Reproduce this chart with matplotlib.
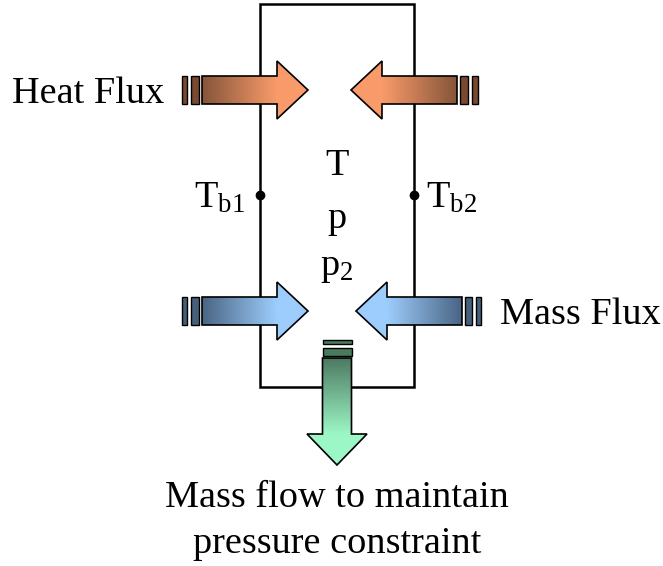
import numpy as np
import matplotlib
matplotlib.use("Agg")
import matplotlib.pyplot as plt
from matplotlib.patches import Polygon, Rectangle
from matplotlib.colors import to_rgb

plt.rcParams.update({
    "font.family": "Liberation Serif",
    "mathtext.fontset": "custom",
    "mathtext.rm": "Liberation Serif",
    "mathtext.it": "Liberation Serif:italic",
})

W, H = 663, 566

# control volume (pixel coords, y down)
box = [260, 4, 414, 387]
probe_y = 195

# horizontal arrows: (tail_x, head_base_x, tip_x, y_center, shaft_half, head_half)
heat_arrows = [(202, 277, 308, 90, 14, 29), (457, 382, 351, 90, 14, 29)]
mass_arrows = [(202, 277, 308, 311, 14, 29), (462, 387, 356, 311, 14, 29)]
# tail stripes for each arrow: list of (x0, x1)
heat_stripes = [[(182, 187), (191, 199)], [(460, 468), (472, 478)]]
mass_stripes = [[(182, 187), (191, 199)], [(465, 472), (476, 481)]]
# down arrow: (x_center, tail_y, head_base_y, tip_y, shaft_half, head_half)
down_arrow = (337, 358, 434, 465, 14.5, 30)
down_stripes = [(340, 344), (348, 356)]

HEAT = ("#86553a", "#f99b6a", "#7a4a30")
MASS = ("#4a6584", "#9dcdfc", "#465f7a")
DRAIN = ("#4d7a62", "#9cf7c6", "#4a7a5e")

labels_center = ["T", "p", r"p$_2$"]
labels_baseline = [175, 228, 275]


def grad_fill(ax, pts, c0, c1, p0, p1):
    pts = np.asarray(pts, float)
    poly = Polygon(pts, closed=True, fc="none", ec="black", lw=1.2, zorder=4)
    ax.add_patch(poly)
    xmin, ymin = pts.min(axis=0)
    xmax, ymax = pts.max(axis=0)
    xs = np.linspace(xmin, xmax, 200)
    ys = np.linspace(ymin, ymax, 200)
    X, Y = np.meshgrid(xs, ys)
    d = np.array(p1, float) - np.array(p0, float)
    t = ((X - p0[0]) * d[0] + (Y - p0[1]) * d[1]) / (d @ d)
    t = np.clip(t, 0, 1)[..., None]
    img = (1 - t) * np.array(to_rgb(c0)) + t * np.array(to_rgb(c1))
    im = ax.imshow(img, origin="lower", extent=(xmin, xmax, ymin, ymax),
                   aspect="auto", zorder=3, interpolation="bilinear")
    im.set_clip_path(poly)


def h_arrow(ax, spec, stripes, cols):
    tail, base, tip, yc, sh, hh = spec
    pts = [(tail, yc - sh), (base, yc - sh), (base, yc - hh), (tip, yc),
           (base, yc + hh), (base, yc + sh), (tail, yc + sh)]
    grad_fill(ax, pts, cols[0], cols[1], (tail, yc), (base, yc))
    for x0, x1 in stripes:
        ax.add_patch(Rectangle((x0, yc - sh), x1 - x0, 2 * sh, fc=cols[2],
                               ec="black", lw=1.0, zorder=4))


fig = plt.figure(figsize=(W / 100, H / 100), dpi=100)
ax = fig.add_axes([0, 0, 1, 1])
ax.set_xlim(0, W)
ax.set_ylim(H, 0)
ax.axis("off")

ax.add_patch(Rectangle((box[0], box[1]), box[2] - box[0], box[3] - box[1],
                       fc="none", ec="black", lw=1.8, zorder=2))

for spec, st in zip(heat_arrows, heat_stripes):
    h_arrow(ax, spec, st, HEAT)
for spec, st in zip(mass_arrows, mass_stripes):
    h_arrow(ax, spec, st, MASS)

xc, ty, by, tipy, sh, hh = down_arrow
pts = [(xc - sh, ty), (xc + sh, ty), (xc + sh, by), (xc + hh, by), (xc, tipy),
       (xc - hh, by), (xc - sh, by)]
grad_fill(ax, pts, DRAIN[0], DRAIN[1], (xc, ty), (xc, by))
for y0, y1 in down_stripes:
    ax.add_patch(Rectangle((xc - sh, y0), 2 * sh, y1 - y0, fc=DRAIN[2],
                           ec="black", lw=1.0, zorder=4))

for x in (box[0], box[2]):
    ax.plot(x, probe_y, "o", color="black", ms=6, zorder=5)

fs = 27.5
ax.text(12, 103, "Heat Flux", fontsize=fs, ha="left", va="baseline")
ax.text(661, 324, "Mass Flux", fontsize=fs, ha="right", va="baseline")
ax.text(194, 208, r"T$_{\mathrm{b1}}$", fontsize=fs, ha="left", va="baseline")
ax.text(426, 208, r"T$_{\mathrm{b2}}$", fontsize=fs, ha="left", va="baseline")
for s, y in zip(labels_center, labels_baseline):
    ax.text(337, y, s, fontsize=fs, ha="center", va="baseline")
ax.text(337, 507, "Mass flow to maintain", fontsize=fs, ha="center", va="baseline")
ax.text(337, 553, "pressure constraint", fontsize=fs, ha="center", va="baseline")

fig.savefig("out.png", dpi=100)
